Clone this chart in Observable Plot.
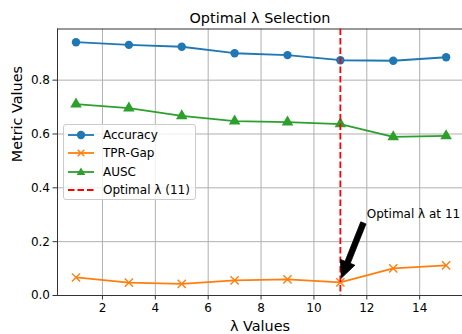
<!DOCTYPE html>
<html>
<head>
<meta charset="utf-8">
<script src="https://cdn.jsdelivr.net/npm/d3@7"></script>
<script src="https://cdn.jsdelivr.net/npm/@observablehq/plot@0.6"></script>
<style>
  body { margin: 0; background: #fff; }
  #wrap { position: relative; width: 462px; height: 334px; font-family: "DejaVu Sans", sans-serif; }
  #legend { position: absolute; left: 63px; top: 124px; width: 133px; height: 76px; box-sizing: border-box;
    border: 1px solid #cccccc; border-radius: 3px; background: rgba(255,255,255,0.8); font-size: 12px; color: #000; }
  #legend .row { position: absolute; left: 3px; height: 18px; display: flex; align-items: center; }
  #legend .row span { margin-left: 8px; white-space: nowrap; }
</style>
</head>
<body>
<div id="wrap"></div>
<script>
const lambdas = [1, 3, 5, 7, 9, 11, 13, 15];
const accuracy = [0.941, 0.931, 0.924, 0.900, 0.893, 0.874, 0.872, 0.885];
const tprGap   = [0.067, 0.048, 0.043, 0.056, 0.060, 0.049, 0.101, 0.112];
const ausc     = [0.711, 0.696, 0.667, 0.648, 0.644, 0.637, 0.589, 0.593];
const seriesNames = ["Accuracy", "TPR-Gap", "AUSC"];
const seriesColors = ["#1f77b4", "#ff7f0e", "#2ca02c"];
const seriesSymbols = ["circle", "times", "triangle"];
const optimalLambda = 11;
const optimalLabel = "Optimal λ (11)";
const annotText = "Optimal λ at 11";
const annotTextPos = [12, 0.3];
const arrowTail = [11.89, 0.268];
const arrowTip = [11, 0.049];
const xTicks = [2, 4, 6, 8, 10, 12, 14];
const yTicks = [0, 0.2, 0.4, 0.6, 0.8];

const seriesValues = [accuracy, tprGap, ausc];
const data = [];
seriesNames.forEach((name, i) => {
  lambdas.forEach((l, j) => data.push({series: name, lambda: l, value: seriesValues[i][j]}));
});

const font = "DejaVu Sans";
const symR = {circle: 4.2, times: 3.8, triangle: 4.3};

function arrowRender(index, scales, values, dimensions, context) {
  const x0 = scales.x(arrowTail[0]), y0 = scales.y(arrowTail[1]);
  let x1 = scales.x(arrowTip[0]), y1 = scales.y(arrowTip[1]);
  const dx = x1 - x0, dy = y1 - y0, len = Math.hypot(dx, dy);
  const ux = dx / len, uy = dy / len;
  x1 -= ux * 4; y1 -= uy * 4;
  const L = len - 4;
  const px = -uy, py = ux;
  const w = 2.8, hw = 7.8, hl = 17;
  const bx = x0 + ux * (L - hl), by = y0 + uy * (L - hl);
  const pts = [
    [x0 + px * w, y0 + py * w],
    [bx + px * w, by + py * w],
    [bx + px * hw, by + py * hw],
    [x1, y1],
    [bx - px * hw, by - py * hw],
    [bx - px * w, by - py * w],
    [x0 - px * w, y0 - py * w]
  ];
  const path = d3.create("svg:path")
    .attr("d", "M" + pts.map(p => p.join(",")).join("L") + "Z")
    .attr("fill", "#000").attr("stroke", "#000").attr("stroke-width", 0.8);
  return path.node();
}

const chart = Plot.plot({
  width: 462,
  height: 334,
  marginTop: 28.5,
  marginBottom: 39,
  marginLeft: 57,
  marginRight: 0,
  style: {fontFamily: font, fontSize: "12px", background: "#fff", color: "#000"},
  x: {domain: [0.3, 15.62]},
  y: {domain: [0, 0.99]},
  marks: [
    Plot.gridX(xTicks, {stroke: "#b0b0b0", strokeOpacity: 1, strokeWidth: 1}),
    Plot.gridY(yTicks, {stroke: "#b0b0b0", strokeOpacity: 1, strokeWidth: 1}),
    Plot.frame({anchor: "top", stroke: "#333", strokeWidth: 1}),
    Plot.frame({anchor: "left", stroke: "#333", strokeWidth: 1}),
    Plot.frame({anchor: "bottom", stroke: "#333", strokeWidth: 1}),
    Plot.axisX(xTicks, {tickSize: 4.5, tickPadding: 3, fontSize: 12, label: null, stroke: "#333"}),
    Plot.axisY(yTicks, {tickSize: 4.5, tickPadding: 3, fontSize: 12, label: null, tickFormat: d3.format(".1f"), stroke: "#333"}),
    ...seriesNames.map((name, i) =>
      Plot.line(data.filter(d => d.series === name), {x: "lambda", y: "value", stroke: seriesColors[i], strokeWidth: 1.8})
    ),
    ...seriesNames.map((name, i) =>
      Plot.dot(data.filter(d => d.series === name), {
        x: "lambda", y: "value", symbol: () => seriesSymbols[i],
        r: symR[seriesSymbols[i]],
        fill: seriesSymbols[i] === "times" ? "none" : seriesColors[i],
        stroke: seriesColors[i], strokeWidth: seriesSymbols[i] === "times" ? 1.4 : 0
      })
    ),
    Plot.ruleX([optimalLambda], {stroke: "red", strokeWidth: 1.8, strokeDasharray: "6.5,3"}),
    Plot.text([annotText], {x: annotTextPos[0], y: annotTextPos[1], text: d => d, textAnchor: "start", lineAnchor: "bottom", dy: 3, fontSize: 12, fill: "#000"}),
    Plot.dot([0], {x: arrowTip[0], y: arrowTip[1], render: arrowRender}),
    Plot.text(["Optimal λ Selection"], {frameAnchor: "top", text: d => d, dy: -11, lineAnchor: "middle", fontSize: 14.4, fill: "#000"}),
    Plot.text(["λ Values"], {frameAnchor: "bottom", text: d => d, dy: 31, lineAnchor: "middle", fontSize: 14.4, fill: "#000"}),
    Plot.text(["Metric Values"], {frameAnchor: "left", text: d => d, dx: -40, rotate: -90, lineAnchor: "middle", fontSize: 14.4, fill: "#000"})
  ]
});

const wrap = document.getElementById("wrap");
wrap.appendChild(chart);

const legend = document.createElement("div");
legend.id = "legend";
const entries = seriesNames.map((n, i) => ({label: n, color: seriesColors[i], symbol: seriesSymbols[i], dashed: false}))
  .concat([{label: optimalLabel, color: "red", symbol: null, dashed: true}]);
entries.forEach((e, i) => {
  const row = document.createElement("div");
  row.className = "row";
  row.style.top = (1 + i * 18.3) + "px";
  let icon = `<svg width="28" height="18"><line x1="1" y1="9" x2="27" y2="9" stroke="${e.color}" stroke-width="1.8" ${e.dashed ? 'stroke-dasharray="6.5,3"' : ''}/>`;
  if (e.symbol === "circle") icon += `<circle cx="14" cy="9" r="4.2" fill="${e.color}"/>`;
  if (e.symbol === "triangle") icon += `<path d="M14,4.5 L18.3,12 L9.7,12 Z" fill="${e.color}"/>`;
  if (e.symbol === "times") icon += `<path d="M10.7,5.7 L17.3,12.3 M17.3,5.7 L10.7,12.3" stroke="${e.color}" stroke-width="1.4"/>`;
  icon += `</svg>`;
  row.innerHTML = icon + `<span>${e.label}</span>`;
  legend.appendChild(row);
});
wrap.appendChild(legend);
</script>
</body>
</html>
